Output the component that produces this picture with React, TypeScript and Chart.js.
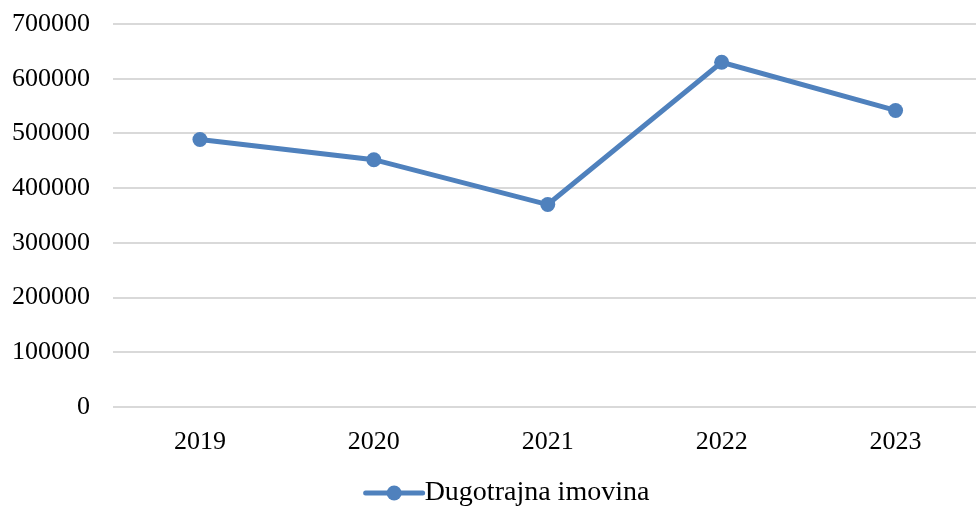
import React, { useEffect, useRef } from "react";
import { Chart, registerables } from "chart.js";

Chart.register(...registerables);

const categories = ["2019", "2020", "2021", "2022", "2023"];
const seriesName = "Dugotrajna imovina";
const seriesValues = [489000, 452000, 370000, 630000, 542000];
const yTicks = [0, 100000, 200000, 300000, 400000, 500000, 600000, 700000];

const COLOR = "#4f81bd";
const W = 990;
const H = 517;

const legendMarker = {
  id: "legendMarker",
  afterDraw(chart: any) {
    const legend = chart.legend;
    if (!legend || !legend.legendHitBoxes || !legend.legendHitBoxes.length) return;
    const hb = legend.legendHitBoxes[0];
    const ctx = chart.ctx;
    const x0 = hb.left + 31;
    const x1 = hb.left + 88;
    const cy = hb.top + hb.height / 2;
    ctx.save();
    ctx.strokeStyle = COLOR;
    ctx.lineWidth = 5;
    ctx.lineCap = "round";
    ctx.beginPath();
    ctx.moveTo(x0, cy);
    ctx.lineTo(x1, cy);
    ctx.stroke();
    ctx.fillStyle = COLOR;
    ctx.beginPath();
    ctx.arc((x0 + x1) / 2, cy, 7.5, 0, Math.PI * 2);
    ctx.fill();
    ctx.restore();
  },
};

export default function App() {
  const ref = useRef<HTMLCanvasElement>(null);
  useEffect(() => {
    if (!ref.current) return;
    const chart = new Chart(ref.current, {
      type: "line",
      data: {
        labels: categories,
        datasets: [
          {
            label: seriesName,
            data: seriesValues,
            borderColor: COLOR,
            backgroundColor: COLOR,
            borderWidth: 5,
            pointRadius: 7.5,
            pointBorderWidth: 0,
            pointBackgroundColor: COLOR,
            tension: 0,
          },
        ],
      },
      options: {
        animation: false,
        responsive: false,
        layout: { padding: { top: 24, right: W - 984, left: 0, bottom: 0 } },
        scales: {
          x: {
            offset: true,
            grid: { display: false, drawTicks: false },
            border: { display: false },
            ticks: {
              color: "#000",
              padding: 20,
              font: { family: "'Liberation Serif', 'Times New Roman', serif", size: 26 },
            },
            afterFit(scale: any) {
              scale.height = 62;
              scale.paddingLeft = 0;
              scale.paddingRight = 0;
            },
          },
          y: {
            min: 0,
            max: 700000,
            afterBuildTicks(scale: any) {
              scale.ticks = yTicks.map((v) => ({ value: v }));
            },
            grid: { color: "#d9d9d9", lineWidth: 2, drawTicks: false },
            border: { display: false },
            ticks: {
              color: "#000",
              padding: 23,
              font: { family: "'Liberation Serif', 'Times New Roman', serif", size: 26 },
              callback: (v: any) => String(v),
            },
            afterFit(scale: any) {
              scale.width = 113;
              scale.paddingTop = 0;
              scale.paddingBottom = 0;
            },
          },
        },
        plugins: {
          legend: {
            position: "bottom",
            labels: {
              color: "#000",
              boxWidth: 76,
              boxHeight: 5,
              padding: 10,
              font: { family: "'Liberation Serif', 'Times New Roman', serif", size: 28 },
              generateLabels: () => [
                {
                  text: seriesName,
                  fillStyle: "rgba(0,0,0,0)",
                  strokeStyle: "rgba(0,0,0,0)",
                  lineWidth: 0,
                  datasetIndex: 0,
                  hidden: false,
                },
              ],
            },
          },
          tooltip: { enabled: false },
        },
      },
      plugins: [legendMarker],
    });
    return () => chart.destroy();
  }, []);
  return (
    <div style={{ position: "fixed", left: 0, top: 0, width: W, height: H, background: "#fff" }}>
      <canvas ref={ref} width={W} height={H} style={{ width: W, height: H, display: "block" }} />
    </div>
  );
}
